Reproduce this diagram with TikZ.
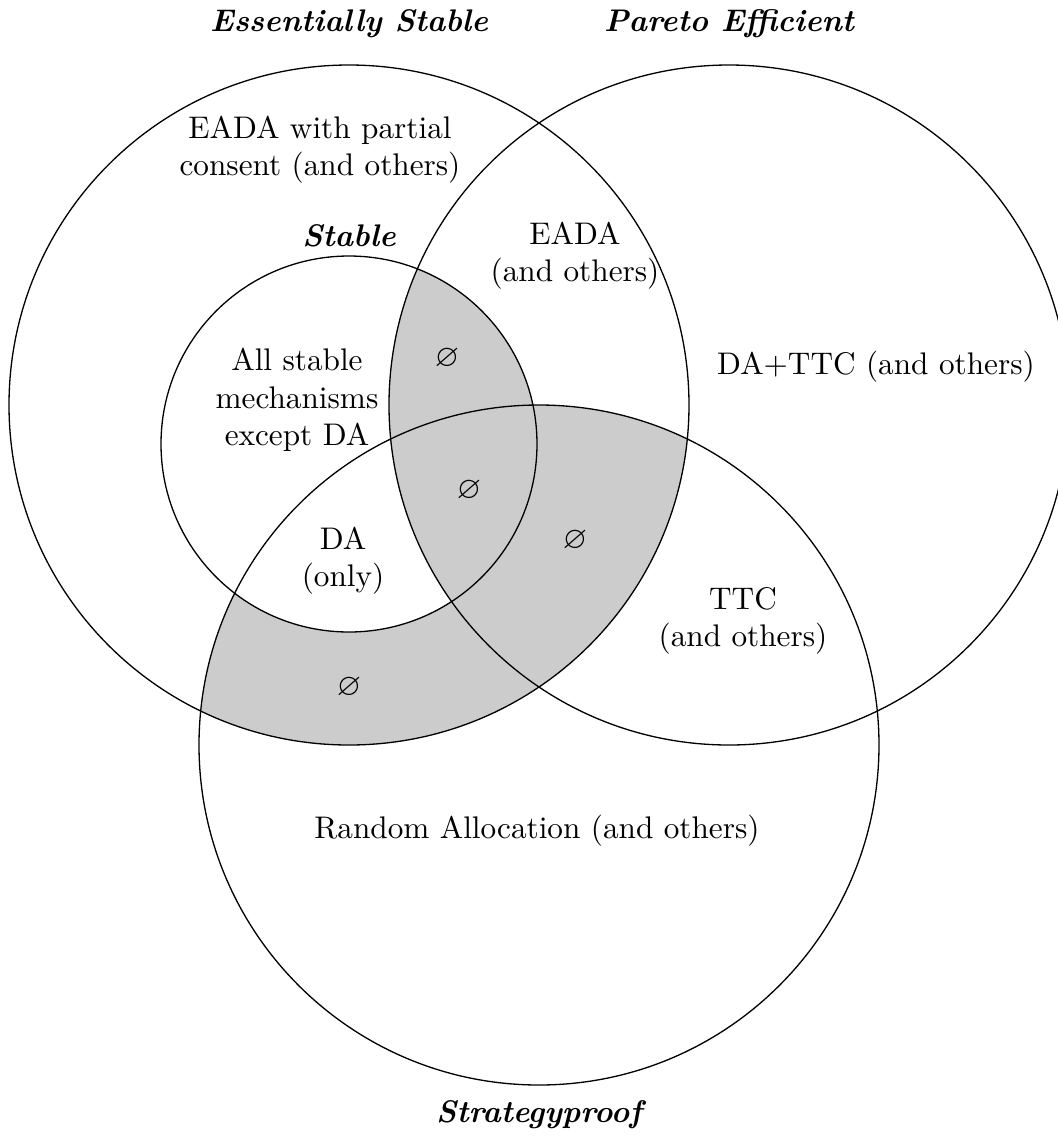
\documentclass[tikz,border=0pt]{standalone}
\usepackage{amssymb}
\begin{document}
\begin{tikzpicture}[x=0.32pt,y=-0.32pt,
  lbl/.style={align=center,font=\fontsize{10}{11.9}\selectfont},
  title/.style={font=\fontsize{10}{12}\selectfont\bfseries\itshape},
  shade/.style={fill=black!20},
  ring/.style={draw=black,line width=0.42pt}]
\useasboundingbox (0,0) rectangle (1058,1139);
\coordinate (ES) at (349,405);
\coordinate (PE) at (729,405);
\coordinate (SP) at (539,745);
\coordinate (ST) at (349,444);
% shading
\begin{scope}
  \clip (ES) circle[radius=340];
  \fill[shade] (SP) circle[radius=340];
\end{scope}
\fill[white] (ST) circle[radius=188];
\begin{scope}
  \clip (ST) circle[radius=188];
  \fill[shade] (PE) circle[radius=340];
\end{scope}
% circles
\draw[ring] (ES) circle[radius=340];
\draw[ring] (PE) circle[radius=340];
\draw[ring] (SP) circle[radius=340];
\draw[ring] (ST) circle[radius=188];
% titles
\node[title] (tES) at (349,24) {Essentially Stable};
\node[title] (tPE) at (729,24) {Pareto Efficient};
\node[title] (tST) at (349,236) {Stable};
\node[title] (tSP) at (539,1115) {Strategyproof};
% labels
\node[lbl] (l1) at (320,150) {EADA with partial\\consent (and others)};
\node[lbl] (l2) at (575,256) {EADA\\(and others)};
\node[lbl] (l3) at (876,367) {DA+TTC (and others)};
\node[lbl] (l4) at (297,400) {All stable\\mechanisms\\except DA};
\node[lbl] (l5) at (343,561) {DA\\(only)};
\node[lbl] (l6) at (743,621) {TTC\\(and others)};
\node[lbl] (l7) at (537,831) {Random Allocation (and others)};
\node[lbl] (e1) at (447,359) {$\varnothing$};
\node[lbl] (e2) at (469,491) {$\varnothing$};
\node[lbl] (e3) at (575,541) {$\varnothing$};
\node[lbl] (e4) at (349,688) {$\varnothing$};
\end{tikzpicture}
\end{document}
